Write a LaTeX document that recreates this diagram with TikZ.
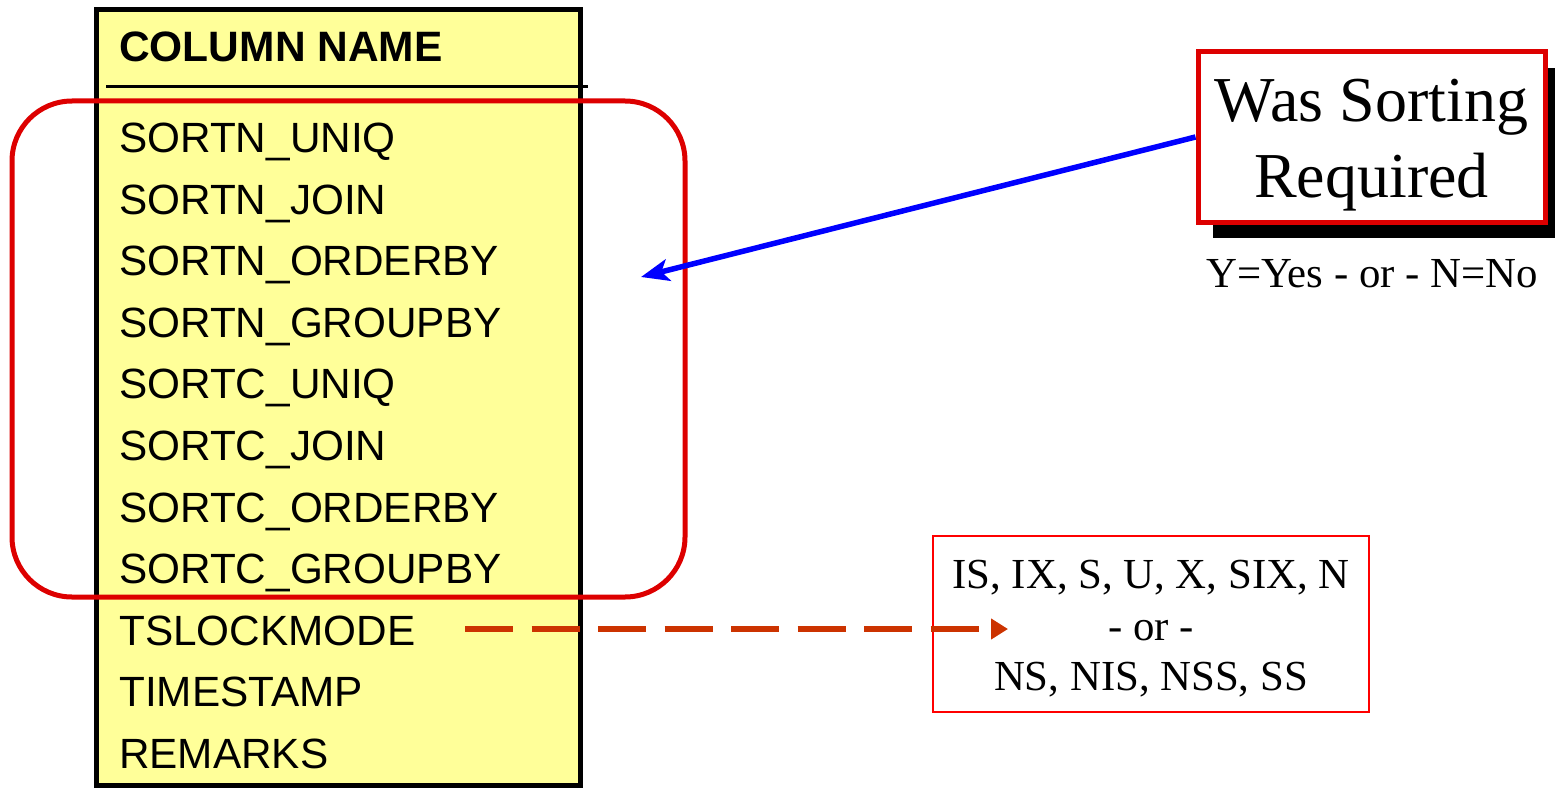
\documentclass[tikz,border=0pt]{standalone}
\usepackage{fontspec}
\setmainfont{Liberation Serif}
\newfontfamily\tabfont{Liberation Sans}
\usetikzlibrary{arrows.meta,shadows}
\definecolor{tabyellow}{HTML}{FFFF99}
\definecolor{grpred}{HTML}{DD0000}
\definecolor{lockred}{HTML}{CC3300}
\begin{document}
\begin{tikzpicture}[x=1pt,y=-1pt,
  tablebox/.style={draw=black, line width=5pt, fill=tabyellow,
    minimum width=484pt, minimum height=775pt, inner sep=0pt},
  colhead/.style={anchor=base west, inner sep=0pt,
    font=\tabfont\bfseries\fontsize{42.5}{50}\selectfont},
  colrow/.style={anchor=base west, inner sep=0pt,
    font=\tabfont\fontsize{42.3}{50}\selectfont},
  sortgroup/.style={draw=grpred, line width=5pt, rounded corners=60pt,
    minimum width=673pt, minimum height=496pt, inner sep=0pt},
  callout/.style={draw=grpred, line width=5pt, fill=white,
    minimum width=347pt, minimum height=170pt, inner sep=0pt,
    drop shadow={shadow xshift=15pt, shadow yshift=-16pt, fill=black, opacity=1}},
  calltext/.style={anchor=base, inner sep=0pt, font=\fontsize{64}{75}\selectfont},
  note/.style={anchor=base, inner sep=0pt, font=\fontsize{42.8}{50}\selectfont},
  modebox/.style={draw=red, line width=2pt, minimum width=436pt,
    minimum height=176pt, inner sep=0pt},
  pointer/.style={draw=blue, line width=5.5pt,
    -{Stealth[length=28pt,width=22pt,inset=7pt]}},
  lockarrow/.style={draw=lockred, line width=6pt,
    dash pattern=on 48pt off 18.5pt, -{Triangle[length=17pt,width=20pt]}}
]
\useasboundingbox (0,0) rectangle (1555,789);

% column table
\node[tablebox] (table) at (338,397.5) {};
\node[colhead] (head) at (119,62) {COLUMN NAME};
\draw[line width=2.5pt] (106,86.5) -- (588,86.5);

\node[colrow] (r1)  at (119,152.4) {SORTN\_UNIQ};
\node[colrow] (r2)  at (119,214.0) {SORTN\_JOIN};
\node[colrow] (r3)  at (119,275.6) {SORTN\_ORDERBY};
\node[colrow] (r4)  at (119,337.2) {SORTN\_GROUPBY};
\node[colrow] (r5)  at (119,398.8) {SORTC\_UNIQ};
\node[colrow] (r6)  at (119,460.4) {SORTC\_JOIN};
\node[colrow] (r7)  at (119,522.0) {SORTC\_ORDERBY};
\node[colrow] (r8)  at (119,583.6) {SORTC\_GROUPBY};
\node[colrow] (r9)  at (119,645.2) {TSLOCKMODE};
\node[colrow] (r10) at (119,706.8) {TIMESTAMP};
\node[colrow] (r11) at (119,768.4) {REMARKS};

% grouping of the sort columns
\node[sortgroup] (sorts) at (348.5,349) {};

% callout for the sort flags
\node[callout] (wsr) at (1371.5,137) {};
\node[calltext] (wsr1) at (1371.5,122) {Was Sorting};
\node[calltext] (wsr2) at (1371.5,197) {Required};
\node[note] (yn) at (1372,287) {Y=Yes - or - N=No};

\coordinate (sorttip) at (641,277);
\draw[pointer] (wsr.west) -- (sorttip);

% lock mode values
\node[modebox] (modes) at (1151,624) {};
\node[note] (m1) at (1151,588) {IS, IX, S, U, X, SIX, N};
\node[note] (m2) at (1151,640) {- or -};
\node[note] (m3) at (1151,690) {NS, NIS, NSS, SS};

\coordinate (lockstart) at (465,629);
\coordinate (locktip) at (1008,629);
\draw[lockarrow] (lockstart) -- (locktip);
\end{tikzpicture}
\end{document}
